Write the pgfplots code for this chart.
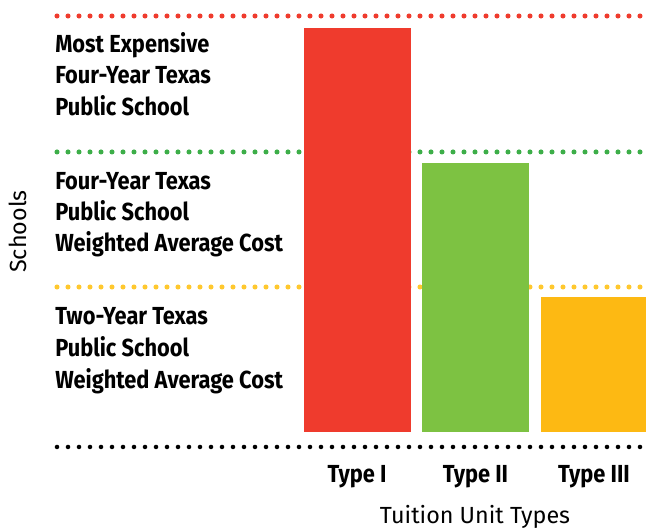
\documentclass[border=0pt]{standalone}
\usepackage{pgfplots}
\pgfplotsset{compat=1.18}
\usepackage{fontspec}
\setmainfont{Fira Sans}
\newfontfamily\condfont{Fira Sans}[FakeStretch=0.885]
\newcommand\lab{\condfont\bfseries\fontsize{18.5pt}{24pt}\selectfont}
\newcommand\reg{\fontsize{17.5pt}{20pt}\selectfont}
\definecolor{cred}{HTML}{EF3B2D}
\definecolor{cgreen}{HTML}{7DC242}
\definecolor{cyellow}{HTML}{FDB913}
\definecolor{dred}{HTML}{EF3B2D}
\definecolor{dgreen}{HTML}{3DAE49}
\definecolor{dyellow}{HTML}{FFC82E}
\tikzset{dots/.style={line width=3.8pt, dash pattern=on 0pt off 8.25pt, line cap=round}}
\begin{document}
\begin{tikzpicture}
\begin{axis}[
  width=443.25pt, height=323.25pt, scale only axis,
  xmin=-2.5485, xmax=2.4388, ymin=-0.1115, ymax=3.093,
  clip=false,
  axis line style={draw=none},
  major tick style={draw=none},
  ytick=\empty,
  xtick={0,1,2},
  xticklabels={Type I, Type II, Type III},
  xticklabel style={anchor=base, yshift=-26.6pt, font=\lab},
  xlabel={Tuition Unit Types},
  xlabel style={at={(axis description cs:0.7107,-0.1787)}, anchor=base, font=\reg},
  ylabel={Schools},
  ylabel style={at={(axis description cs:-0.0626,0.5)}, anchor=center, font=\reg},
]
% dotted reference lines
\addplot[dots, color=dred] coordinates {(-2.5316,3.093) (2.6,3.093)};
\addplot[dots, color=dgreen] coordinates {(-2.5316,2.082) (2.6,2.082)};
\addplot[dots, color=dyellow] coordinates {(-2.5316,1.078) (2.6,1.078)};
\addplot[dots, line width=3.4pt, color=black] coordinates {(-2.5316,-0.1115) (2.6,-0.1115)};
% bars
\addplot[ybar, bar width=0.903, fill=cred, draw=none] coordinates {(0,3.0)};
\addplot[ybar, bar width=0.903, fill=cgreen, draw=none] coordinates {(1,2.0)};
\addplot[ybar, bar width=0.903, fill=cyellow, draw=none] coordinates {(2,1.0)};
% category text
\node[anchor=base west, inner sep=0, font=\lab] at (axis cs:-2.5485,2.8216) {Most Expensive};
\node[anchor=base west, inner sep=0, font=\lab] at (axis cs:-2.5485,2.5874) {Four-Year Texas};
\node[anchor=base west, inner sep=0, font=\lab] at (axis cs:-2.5485,2.3494) {Public School};
\node[anchor=base west, inner sep=0, font=\lab] at (axis cs:-2.5485,1.8030) {Four-Year Texas};
\node[anchor=base west, inner sep=0, font=\lab] at (axis cs:-2.5485,1.5688) {Public School};
\node[anchor=base west, inner sep=0, font=\lab] at (axis cs:-2.5485,1.3383) {Weighted Average Cost};
\node[anchor=base west, inner sep=0, font=\lab] at (axis cs:-2.5485,0.7955) {Two-Year Texas};
\node[anchor=base west, inner sep=0, font=\lab] at (axis cs:-2.5485,0.5576) {Public School};
\node[anchor=base west, inner sep=0, font=\lab] at (axis cs:-2.5485,0.3234) {Weighted Average Cost};
\coordinate (bbsw) at (axis cs:-3.0127,-0.7361);
\coordinate (bbne) at (axis cs:2.4388,3.2119);
\end{axis}
\pgfresetboundingbox
\useasboundingbox (bbsw) rectangle (bbne);
\end{tikzpicture}
\end{document}
